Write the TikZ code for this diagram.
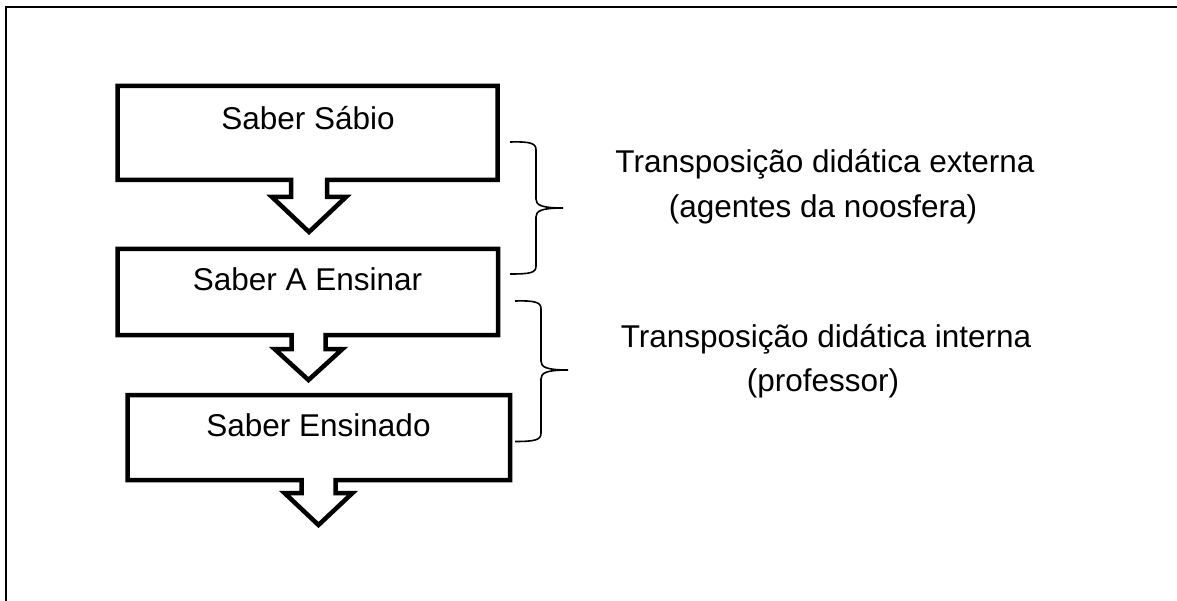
\documentclass[tikz,border=0pt]{standalone}
\usepackage{fontspec}
\setmainfont{Liberation Sans}
\begin{document}
\begin{tikzpicture}[x=1pt,y=-1pt,
  flowbox/.style={draw=black,line width=4.5pt,line join=miter},
  bracepath/.style={draw=black,line width=1.6pt},
  lbl/.style={font=\fontsize{31.5}{38}\selectfont,inner sep=0pt,anchor=base},
  frameline/.style={draw=black,line width=2.5pt}]
\useasboundingbox (0,0) rectangle (1177,601);
\draw[frameline] (6,610) -- (6,7) -- (1185,7);
% box 1
\draw[flowbox] (117.5,86) -- (497.5,86) -- (497.5,180) -- (327,180) -- (327,197) -- (346,197)
  -- (309,232) -- (272,197) -- (291,197) -- (291,180) -- (117.5,180) -- cycle;
% box 2
\draw[flowbox] (117.5,249) -- (498,249) -- (498,335) -- (325.5,335) -- (325.5,349) -- (342.5,349)
  -- (308.5,380) -- (274.5,349) -- (291.5,349) -- (291.5,335) -- (117.5,335) -- cycle;
% box 3
\draw[flowbox] (127.5,395) -- (510,395) -- (510,480) -- (335.5,480) -- (335.5,493) -- (352.5,493)
  -- (318.5,525) -- (284.5,493) -- (301.5,493) -- (301.5,480) -- (127.5,480) -- cycle;
\node[lbl] (s1) at (308,129.5) {Saber Sábio};
\node[lbl] (s2) at (307.5,290.5) {Saber A Ensinar};
\node[lbl] (s3) at (318.5,436.5) {Saber Ensinado};
% braces
\draw[bracepath] (510,142) .. controls (530,141.5) and (536,143) .. (536,150) -- (536,199)
  .. controls (536,205) and (541,208) .. (563,208)
  .. controls (541,208) and (536,211) .. (536,217) -- (536,266)
  .. controls (536,273) and (530,274) .. (510,274);
\draw[bracepath] (515,301) .. controls (535,300.5) and (541,302) .. (541,309) -- (541,361)
  .. controls (541,367) and (546,370) .. (568,370)
  .. controls (546,370) and (541,373) .. (541,379) -- (541,433)
  .. controls (541,440) and (535,441.5) .. (515,441.5);
\node[lbl] (e1) at (825,173) {Transposição didática externa};
\node[lbl] (e2) at (823,217.5) {(agentes da noosfera)};
\node[lbl] (i1) at (826,347) {Transposição didática interna};
\node[lbl] (i2) at (823,391.5) {(professor)};
\end{tikzpicture}
\end{document}
